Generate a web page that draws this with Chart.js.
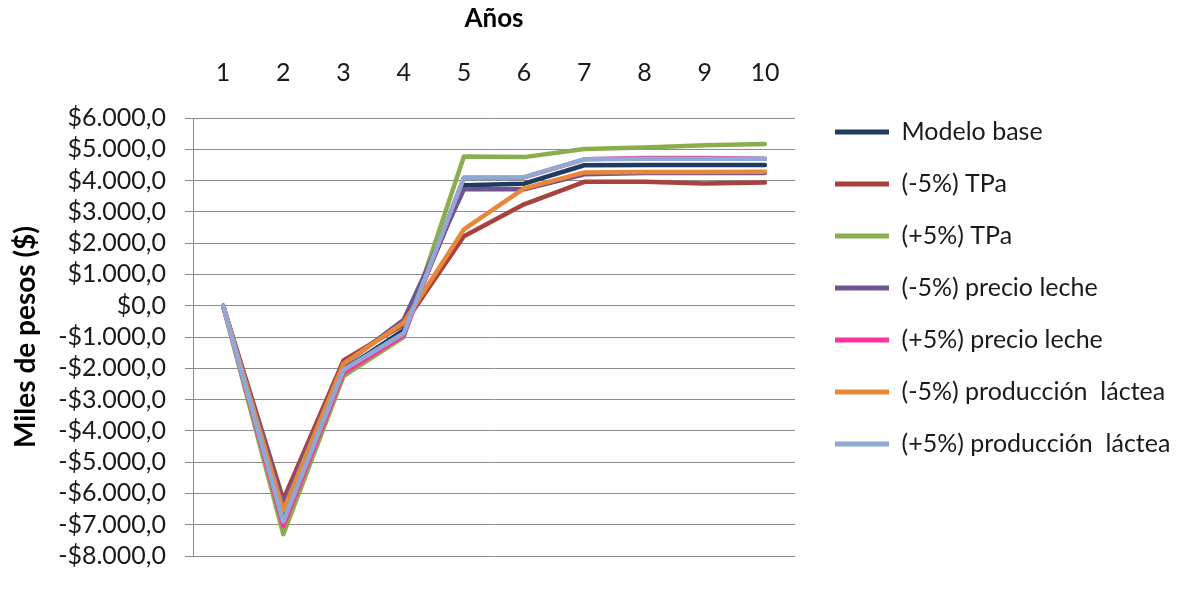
<!DOCTYPE html>
<html lang="es">
<head>
<meta charset="utf-8">
<title>Sensibilidad del flujo de caja</title>
<script src="https://cdn.jsdelivr.net/npm/chart.js@4/dist/chart.umd.min.js"></script>
<style>
  html, body { margin: 0; padding: 0; background: #ffffff; overflow: hidden; }
  #grafico { display: block; }
</style>
</head>
<body>
<canvas id="grafico" width="1189" height="590"></canvas>
<script>
// Años del horizonte de evaluación
const anios = ['1', '2', '3', '4', '5', '6', '7', '8', '9', '10'];

// Flujo anual por escenario (miles de pesos)
const modeloBase       = [0, -6750, -2050, -780, 3850, 3900, 4490, 4500, 4500, 4500];
const tpaMenos5        = [0, -6200, -1750, -600, 2220, 3240, 3960, 3960, 3910, 3940];
const tpaMas5          = [0, -7300, -2250, -1000, 4770, 4750, 5010, 5060, 5130, 5170];
const precioMenos5     = [0, -6350, -1900, -450, 3720, 3720, 4200, 4240, 4240, 4240];
const precioMas5       = [0, -7050, -2150, -950, 4090, 4100, 4680, 4720, 4720, 4700];
const produccionMenos5 = [0, -6550, -1850, -540, 2440, 3750, 4260, 4270, 4270, 4280];
const produccionMas5   = [0, -6900, -2050, -880, 4090, 4110, 4680, 4700, 4700, 4700];

// Nombres de la leyenda y colores de cada serie
const nombres = ['Modelo base', '(-5%) TPa', '(+5%) TPa', '(-5%) precio leche',
                 '(+5%) precio leche', '(-5%) producción  láctea', '(+5%) producción  láctea'];
const colores = ['#1F3B63', '#A9423F', '#8AAE4D', '#6E558F', '#FF3399', '#E6873A', '#8EAAD4'];
const series = [modeloBase, tpaMenos5, tpaMas5, precioMenos5, precioMas5, produccionMenos5, produccionMas5];

// Eje vertical
const yMin = -8000, yMax = 6000, yPaso = 1000;

function formatoPesos(v) {
  const abs = Math.abs(v);
  const miles = Math.floor(abs / 1000);
  const resto = String(abs % 1000).padStart(3, '0');
  const cuerpo = (miles > 0 ? miles + '.' + resto : String(abs)) + ',0';
  return (v < 0 ? '-$' : '$') + cuerpo;
}

const FUENTE = 'Lato, "Noto Sans", sans-serif';
const GRIS = '#8C8C8C';

const datasets = series.map((valores, i) => ({
  label: nombres[i],
  data: valores,
  borderColor: colores[i],
  backgroundColor: colores[i],
  borderWidth: 4.5,
  pointRadius: 0,
  pointHoverRadius: 0,
  tension: 0,
  fill: false,
  borderJoinStyle: 'round',
  borderCapStyle: 'round',
  // la última serie queda encima de las anteriores
  order: series.length - i
}));

// separa la leyenda del área de trazado y le da todo el ancho restante
const separarLeyenda = {
  id: 'separarLeyenda',
  afterLayout(chart) {
    const ley = chart.legend;
    if (!ley) return;
    ley.left = 835 - 27;
    ley.right = chart.width;
    ley.width = ley.right - ley.left;
  }
};

new Chart(document.getElementById('grafico'), {
  type: 'line',
  data: { labels: anios, datasets },
  plugins: [separarLeyenda],
  options: {
    responsive: false,
    animation: false,
    maintainAspectRatio: false,
    devicePixelRatio: 1,
    layout: { padding: { top: 0, bottom: 14, left: 0, right: 129 } },
    plugins: {
      tooltip: { enabled: false },
      legend: {
        position: 'right',
        align: 'center',
        labels: {
          font: { family: FUENTE, size: 25 },
          color: '#1a1a1a',
          boxWidth: 54,
          boxHeight: 5,
          padding: 27,
          generateLabels(chart) {
            const items = Chart.defaults.plugins.legend.labels.generateLabels(chart);
            items.forEach(it => { it.lineWidth = 0; it.fillStyle = it.strokeStyle; });
            return items.sort((a, b) => a.datasetIndex - b.datasetIndex);
          }
        }
      }
    },
    scales: {
      x: {
        position: 'top',
        offset: true,
        grid: { display: false, drawTicks: false },
        border: { display: false },
        ticks: {
          font: { family: FUENTE, size: 25 },
          color: '#1a1a1a',
          padding: 30,
          maxRotation: 0
        },
        title: {
          display: true,
          text: 'Años',
          font: { family: FUENTE, size: 26, weight: 'bold' },
          color: '#000',
          padding: { top: 3, bottom: 0 }
        },
        afterFit(scale) { scale.height = 118; }
      },
      y: {
        min: yMin,
        max: yMax,
        grid: { color: GRIS, lineWidth: 1, drawTicks: true, tickLength: 8, tickColor: GRIS },
        border: { color: GRIS, width: 1 },
        ticks: {
          stepSize: yPaso,
          autoSkip: false,
          font: { family: FUENTE, size: 25 },
          color: '#1a1a1a',
          padding: 19,
          callback: v => formatoPesos(v)
        },
        title: {
          display: true,
          text: 'Miles de pesos ($)',
          font: { family: FUENTE, size: 28, weight: 'bold' },
          color: '#000',
          padding: { top: 9, bottom: 0 }
        },
        afterFit(scale) { scale.width = 193; }
      }
    }
  }
});
</script>
</body>
</html>
